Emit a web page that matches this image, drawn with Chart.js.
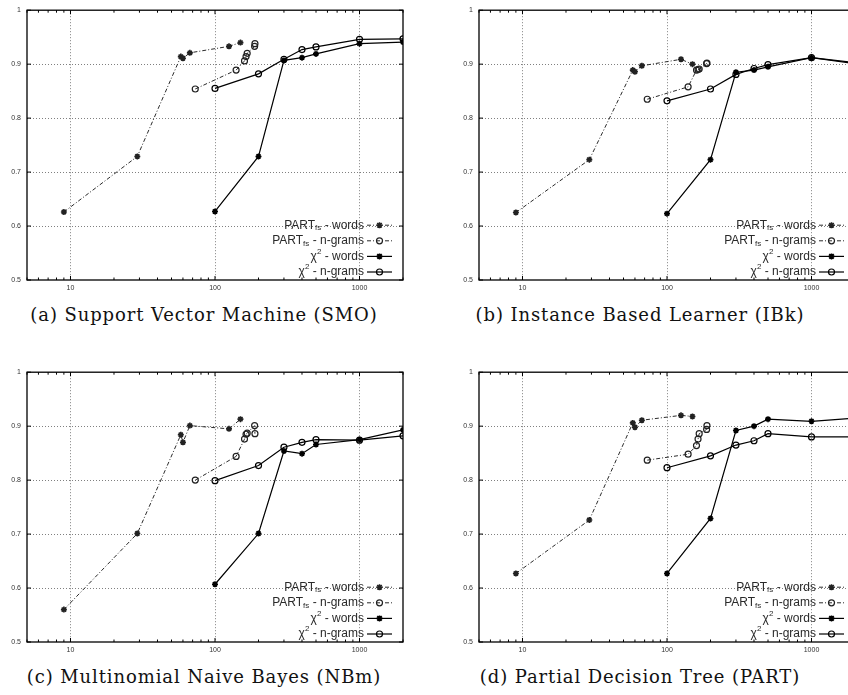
<!DOCTYPE html>
<html lang="en">
<head>
<meta charset="UTF-8">
<title>Accuracy vs number of features</title>
<script src="https://cdn.jsdelivr.net/npm/chart.js"></script>
<style>
  body { margin: 0; width: 848px; height: 695px; overflow: hidden; background: white; position: relative; }
  canvas { position: absolute; }
  .caption { position: absolute; width: 420px; text-align: center; font-family: "DejaVu Serif", serif; font-size: 18px; letter-spacing: 0.9px; color: #111; white-space: nowrap; }
</style>
</head>
<body>
<canvas id="smo" width="420" height="300" style="left:0;top:0"></canvas>
<canvas id="ibk" width="420" height="300" style="left:452px;top:0"></canvas>
<canvas id="nbm" width="420" height="300" style="left:0;top:362px"></canvas>
<canvas id="part" width="420" height="300" style="left:452px;top:362px"></canvas>
<div class="caption" style="left:-6px;top:304px">(a) Support Vector Machine (SMO)</div>
<div class="caption" style="left:430px;top:304px">(b) Instance Based Learner (IBk)</div>
<div class="caption" style="left:-6px;top:666px">(c) Multinomial Naive Bayes (NBm)</div>
<div class="caption" style="left:430px;top:666px">(d) Partial Decision Tree (PART)</div>
<script>
// number of features on x
const partWordsX = [9, 29, 58, 60, 67, 125, 150];
const partNgramsX = [73, 140, 160, 164, 167, 188, 189];
const chiX = [100, 200, 300, 400, 500, 1000, 2000];

// (a) SMO
const smoPartWords = [0.626, 0.729, 0.914, 0.911, 0.921, 0.933, 0.940];
const smoPartNgrams = [0.854, 0.889, 0.906, 0.914, 0.920, 0.933, 0.938];
const smoChiWords = [0.627, 0.729, 0.907, 0.912, 0.919, 0.938, 0.941];
const smoChiNgrams = [0.855, 0.882, 0.909, 0.927, 0.932, 0.946, 0.947];

// (b) IBk
const ibkPartWords = [0.625, 0.723, 0.889, 0.886, 0.897, 0.909, 0.900];
const ibkPartNgrams = [0.835, 0.858, 0.889, 0.890, 0.891, 0.901, 0.902];
const ibkChiWords = [0.623, 0.723, 0.885, 0.889, 0.895, 0.912, 0.901];
const ibkChiNgrams = [0.832, 0.854, 0.881, 0.892, 0.899, 0.912, 0.903];

// (c) NBm
const nbmPartWords = [0.560, 0.701, 0.884, 0.870, 0.901, 0.895, 0.913];
const nbmPartNgrams = [0.800, 0.844, 0.876, 0.885, 0.887, 0.901, 0.886];
const nbmChiWords = [0.607, 0.701, 0.854, 0.849, 0.866, 0.875, 0.893];
const nbmChiNgrams = [0.799, 0.827, 0.861, 0.870, 0.875, 0.874, 0.882];

// (d) PART
const partPartWords = [0.627, 0.726, 0.906, 0.898, 0.911, 0.920, 0.918];
const partPartNgrams = [0.837, 0.848, 0.864, 0.876, 0.886, 0.894, 0.901];
const partChiWords = [0.627, 0.729, 0.892, 0.900, 0.913, 0.909, 0.915];
const partChiNgrams = [0.823, 0.845, 0.865, 0.873, 0.886, 0.880, 0.880];

const xTickValues = [5, 6, 7, 8, 9, 10, 20, 30, 40, 50, 60, 70, 80, 90, 100,
  200, 300, 400, 500, 600, 700, 800, 900, 1000, 2000];
const xLabelValues = [10, 100, 1000];
const yTickValues = [0.5, 0.6, 0.7, 0.8, 0.9, 1];

const legendLabels = [
  { base: "PART", small: "fs", sup: false, rest: " - words" },
  { base: "PART", small: "fs", sup: false, rest: " - n-grams" },
  { base: "\u03C7", small: "2", sup: true, rest: " - words" },
  { base: "\u03C7", small: "2", sup: true, rest: " - n-grams" }
];

function pts(xs, ys) {
  return xs.map((x, i) => ({ x: x, y: ys[i] }));
}

function drawMarker(ctx, style, x, y, r) {
  ctx.beginPath();
  if (style === "circle") {
    ctx.arc(x, y, r, 0, Math.PI * 2);
  } else {
    ctx.moveTo(x - r, y); ctx.lineTo(x + r, y);
    ctx.moveTo(x, y - r); ctx.lineTo(x, y + r);
    const d = r * 0.75;
    ctx.moveTo(x - d, y - d); ctx.lineTo(x + d, y + d);
    ctx.moveTo(x - d, y + d); ctx.lineTo(x + d, y - d);
  }
  ctx.stroke();
}

// gnuplot style box with ticks pointing inwards
const framePlugin = {
  id: "frame",
  afterDatasetsDraw(chart) {
    const { ctx, chartArea: a, scales } = chart;
    ctx.save();
    ctx.strokeStyle = "#000";
    ctx.lineWidth = 1;
    ctx.beginPath();
    scales.x.ticks.forEach(t => {
      const px = scales.x.getPixelForValue(t.value);
      const len = xLabelValues.includes(t.value) ? 4 : 2.5;
      ctx.moveTo(px, a.bottom); ctx.lineTo(px, a.bottom - len);
      ctx.moveTo(px, a.top); ctx.lineTo(px, a.top + len);
    });
    scales.y.ticks.forEach(t => {
      const py = scales.y.getPixelForValue(t.value);
      ctx.moveTo(a.left, py); ctx.lineTo(a.left + 4, py);
      ctx.moveTo(a.right, py); ctx.lineTo(a.right - 4, py);
    });
    ctx.stroke();
    ctx.lineWidth = 1.3;
    ctx.strokeRect(a.left, a.top, a.right - a.left, a.bottom - a.top);
    ctx.restore();
  }
};

// key in the lower right corner, text right aligned, sample after it
const keyPlugin = {
  id: "key",
  afterDraw(chart) {
    const { ctx, chartArea: a } = chart;
    const n = chart.data.datasets.length;
    ctx.save();
    ctx.textBaseline = "middle";
    chart.data.datasets.forEach((ds, i) => {
      const lab = legendLabels[i];
      const yy = a.bottom - 8 - (n - 1 - i) * 15.6;
      ctx.font = '12px "Liberation Sans"';
      const wBase = ctx.measureText(lab.base).width;
      const wRest = ctx.measureText(lab.rest).width;
      ctx.font = '8px "Liberation Sans"';
      const wSmall = ctx.measureText(lab.small).width;
      let xx = a.right - 39 - (wBase + wSmall + wRest);
      ctx.fillStyle = "#2a2a2a";
      ctx.font = '12px "Liberation Sans"';
      ctx.fillText(lab.base, xx, yy);
      xx += wBase;
      ctx.font = '8px "Liberation Sans"';
      ctx.fillText(lab.small, xx, lab.sup ? yy - 5 : yy + 3);
      xx += wSmall;
      ctx.font = '12px "Liberation Sans"';
      ctx.fillText(lab.rest, xx, yy);

      ctx.strokeStyle = ds.borderColor;
      ctx.lineWidth = ds.borderWidth;
      ctx.setLineDash(ds.borderDash || []);
      ctx.beginPath();
      ctx.moveTo(a.right - 36, yy);
      ctx.lineTo(a.right - 11, yy);
      ctx.stroke();
      ctx.setLineDash([]);
      ctx.strokeStyle = ds.pointBorderColor;
      ctx.lineWidth = ds.pointBorderWidth;
      drawMarker(ctx, ds.pointStyle, a.right - 23.5, yy, ds.pointRadius);
    });
    ctx.restore();
  }
};

function dataset(data, dashed, style) {
  return {
    data: data,
    borderColor: dashed ? "#2a2a2a" : "#000",
    borderWidth: dashed ? 1 : 1.2,
    borderDash: dashed ? [4, 2, 1, 2] : [],
    pointStyle: style,
    pointRadius: 3,
    pointBorderWidth: style === "star" ? 1.6 : 1.2,
    pointBorderColor: dashed ? "#222" : "#000",
    pointBackgroundColor: "rgba(0,0,0,0)",
    tension: 0
  };
}

function makePanel(id, partWords, partNgrams, chiWords, chiNgrams) {
  const ctx = document.getElementById(id).getContext("2d");
  return new Chart(ctx, {
    type: "line",
    data: {
      datasets: [
        dataset(pts(partWordsX, partWords), true, "star"),
        dataset(pts(partNgramsX, partNgrams), true, "circle"),
        dataset(pts(chiX, chiWords), false, "star"),
        dataset(pts(chiX, chiNgrams), false, "circle")
      ]
    },
    options: {
      responsive: false,
      animation: false,
      layout: { padding: { top: 10, right: 17, left: 0, bottom: 0 } },
      plugins: { legend: { display: false }, tooltip: { enabled: false } },
      scales: {
        x: {
          type: "logarithmic",
          min: 5,
          max: 2000,
          afterBuildTicks: scale => {
            scale.ticks = xTickValues.map(v => ({ value: v }));
          },
          afterFit: scale => { scale.height = 20; },
          ticks: {
            autoSkip: false,
            maxRotation: 0,
            padding: 4,
            color: "#333",
            font: { family: "Liberation Sans", size: 7 },
            callback: v => xLabelValues.includes(v) ? String(v) : ""
          },
          grid: {
            drawTicks: false,
            lineWidth: 1,
            color: c => (c.tick && xLabelValues.includes(c.tick.value)) ? "#808080" : "rgba(0,0,0,0)"
          },
          border: { display: false, dash: [1, 2] }
        },
        y: {
          min: 0.5,
          max: 1,
          afterBuildTicks: scale => {
            scale.ticks = yTickValues.map(v => ({ value: v }));
          },
          afterFit: scale => { scale.width = 27; },
          ticks: {
            padding: 6,
            color: "#333",
            font: { family: "Liberation Sans", size: 7 },
            callback: v => String(Number(v.toFixed(1)))
          },
          grid: {
            drawTicks: false,
            lineWidth: 1,
            color: c => (c.tick && c.tick.value > 0.55 && c.tick.value < 0.95) ? "#808080" : "rgba(0,0,0,0)"
          },
          border: { display: false, dash: [1, 2] }
        }
      }
    },
    plugins: [framePlugin, keyPlugin]
  });
}

makePanel("smo", smoPartWords, smoPartNgrams, smoChiWords, smoChiNgrams);
makePanel("ibk", ibkPartWords, ibkPartNgrams, ibkChiWords, ibkChiNgrams);
makePanel("nbm", nbmPartWords, nbmPartNgrams, nbmChiWords, nbmChiNgrams);
makePanel("part", partPartWords, partPartNgrams, partChiWords, partChiNgrams);
</script>
</body>
</html>
